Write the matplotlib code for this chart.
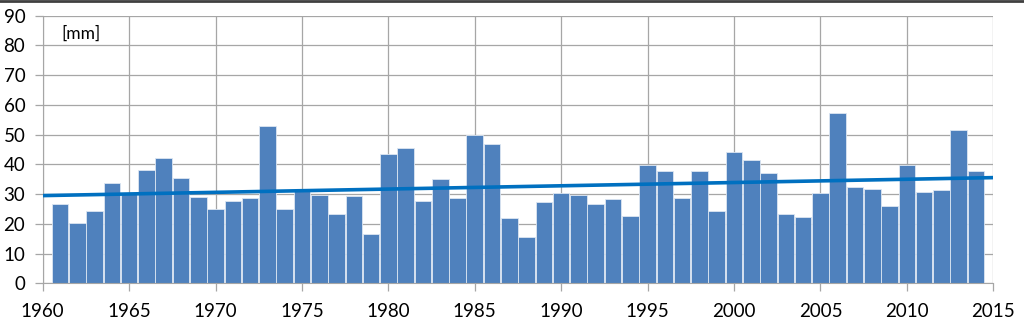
import numpy as np
import matplotlib
matplotlib.use("Agg")
import matplotlib.pyplot as plt
from matplotlib.lines import Line2D

# yearly values [mm]
years = np.arange(1961, 2015)
values = [
    26.7, 20.4, 24.4, 33.6, 30.5, 38.0, 42.1, 35.3, 29.1, 25.0,   # 1961-1970
    27.7, 28.6, 53.0, 25.0, 31.5, 29.8, 23.2, 29.5, 16.7, 43.6,   # 1971-1980
    45.5, 27.6, 35.1, 28.7, 49.9, 46.7, 22.0, 15.7, 27.3, 30.5,   # 1981-1990
    29.7, 26.8, 28.5, 22.6, 39.9, 37.8, 28.7, 37.8, 24.2, 44.0,   # 1991-2000
    41.4, 37.0, 23.2, 22.2, 30.5, 57.3, 32.4, 31.8, 25.9, 39.9,   # 2001-2010
    30.8, 31.4, 51.6, 37.8,                                       # 2011-2014
]
x_ticks = np.arange(1960, 2016, 5)
y_ticks = np.arange(0, 91, 10)
unit_label = "[mm]"

plt.rcParams["font.family"] = ["Lato", "DejaVu Sans"]

fig = plt.figure(figsize=(10.24, 3.2), dpi=100, facecolor="white")
ax = fig.add_axes([0.0417, 0.1147, 0.9283, 0.8363])

ax.bar(years, values, width=0.96, color="#4F81BD", edgecolor="#DCE6F2",
       linewidth=0.6, zorder=2)

# linear trend
coef = np.polyfit(years, values, 1)
tx = np.array([1960, 2015])
ax.plot(tx, np.polyval(coef, tx), color="#0070C0", linewidth=2.6, zorder=3)

ax.set_xlim(1960, 2015)
ax.set_ylim(0, 90)
ax.set_xticks(x_ticks)
ax.set_yticks(y_ticks)
ax.grid(True, color="#A6A6A6", linewidth=0.9, zorder=0)
ax.set_axisbelow(True)
for s in ["top", "right"]:
    ax.spines[s].set_visible(False)
ax.spines["left"].set_color("#A6A6A6")
ax.spines["bottom"].set_color("#A6A6A6")
ax.tick_params(axis="both", colors="#A6A6A6", labelcolor="black",
               labelsize=13.5, length=5.5, width=0.9)
ax.tick_params(axis="x", pad=9)
ax.tick_params(axis="y", pad=7)

ax.text(1961.1, 84, unit_label, fontsize=12.5, va="center", ha="left")

# dark frame line at the top of the image
fig.add_artist(Line2D([0, 1], [0.997, 0.997], color="#404040", linewidth=2,
                      transform=fig.transFigure))

fig.savefig("out.png", dpi=100)
